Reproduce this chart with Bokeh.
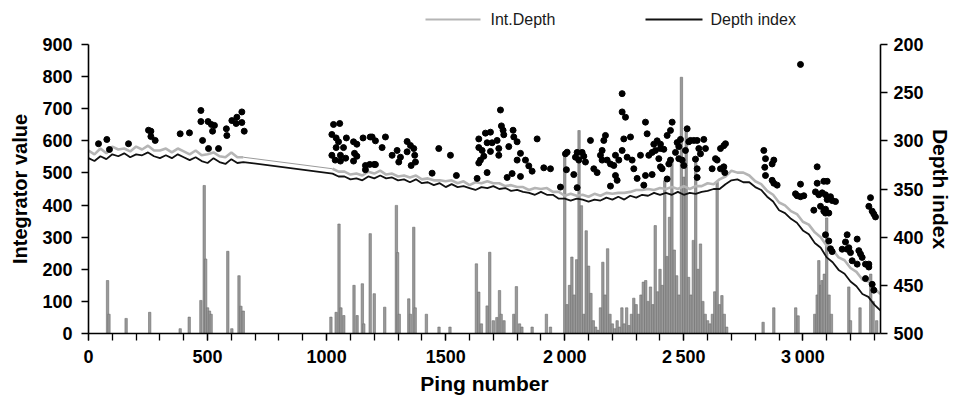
from bokeh.plotting import figure
from bokeh.layouts import column
from bokeh.models import (Range1d, LinearAxis, SingleIntervalTicker, FixedTicker,
                          ColumnDataSource)
from bokeh.core.properties import value
from bokeh.embed import file_html
from bokeh.resources import INLINE

# ---------------- data ----------------
# Depth index (black line), right axis units
depth_ping_a = list(range(0, 651, 25))
depth_a = [318, 321, 316, 319, 314, 316, 313, 317, 314, 315, 312, 316, 318, 315,
           318, 314, 317, 320, 317, 321, 323, 318, 322, 324, 319, 323, 322]
depth_ping_b = list(range(1025, 3326, 25))
depth_b = [334, 337, 337, 340, 339, 341, 337, 339, 336, 339,
           338, 341, 340, 343, 340, 344, 343, 346, 344, 348,
           345, 348, 347, 349, 351, 348, 349, 347, 350, 349,
           352, 351, 353, 354, 356, 353, 356, 356, 360, 360,
           362, 360, 361, 363, 361, 362, 359, 361, 358, 361,
           357, 359, 356, 357, 354, 356, 354, 356, 353, 356,
           354, 355, 353, 352, 350, 350, 345, 341, 340, 343,
           343, 348, 351, 358, 363, 372, 375, 381, 385, 393,
           397, 406, 411, 421, 426, 434, 438, 446, 451, 459,
           462, 470, 476]

# Int.Depth (grey line), right axis units
intd_a = [310, 314, 308, 313, 306, 309, 308, 311, 306, 309, 305, 310, 310, 308,
          312, 308, 311, 314, 310, 315, 314, 312, 316, 317, 312, 317, 317]
intd_b = [329, 332, 332, 335, 334, 336, 332, 334, 331, 335,
          334, 337, 336, 338, 336, 340, 339, 341, 341, 342,
          341, 344, 342, 346, 343, 344, 342, 344, 344, 347,
          346, 348, 348, 351, 349, 350, 349, 353, 353, 357,
          355, 357, 356, 358, 355, 357, 354, 355, 354, 354,
          353, 351, 351, 350, 351, 349, 350, 348, 350, 347,
          350, 347, 347, 344, 345, 340, 337, 331, 333, 333,
          336, 342, 345, 352, 356, 364, 367, 373, 376, 384,
          387, 395, 400, 409, 413, 421, 424, 432, 436, 444,
          446, 453, 459]

# Integrator value spikes (ping, value), left axis units
integrator = [
    (80, 165), (86, 60), (158, 47), (257, 66), (385, 15), (423, 51), (472, 103),
    (486, 461), (492, 232), (500, 80), (508, 70), (515, 60), (585, 256), (602, 15),
    (632, 180), (640, 85), (650, 70),
    (1018, 51), (1040, 66), (1052, 341), (1060, 80), (1072, 56), (1115, 150),
    (1128, 56), (1150, 155), (1156, 30), (1183, 311), (1200, 124), (1244, 82),
    (1293, 399), (1298, 252), (1305, 60), (1345, 108), (1352, 60), (1366, 331),
    (1372, 80), (1419, 60), (1472, 20), (1518, 20), (1629, 217), (1639, 129),
    (1650, 30), (1674, 86), (1685, 253), (1700, 40), (1715, 50), (1726, 134),
    (1733, 60), (1745, 40), (1786, 60), (1797, 146), (1810, 30), (1820, 20),
    (1863, 20), (1923, 60), (1940, 20),
    (2000, 560), (2010, 90), (2020, 150), (2030, 238), (2040, 120), (2050, 230),
    (2060, 632), (2070, 398), (2080, 60), (2090, 320), (2100, 210), (2110, 125),
    (2120, 40), (2130, 20), (2140, 10), (2150, 80), (2160, 222), (2170, 120),
    (2180, 264), (2190, 60), (2200, 30), (2210, 15), (2220, 40), (2230, 20),
    (2240, 80), (2250, 30), (2260, 80), (2270, 25), (2280, 60), (2290, 110),
    (2300, 90), (2310, 60), (2320, 120), (2330, 160), (2340, 165), (2350, 100),
    (2360, 145), (2370, 90), (2380, 336), (2390, 130), (2400, 200), (2410, 150),
    (2420, 476), (2430, 240), (2440, 362), (2450, 544), (2460, 260), (2470, 180),
    (2480, 120), (2490, 798), (2500, 487), (2510, 632), (2520, 175), (2530, 120),
    (2540, 290), (2550, 549), (2560, 200), (2570, 279), (2580, 100), (2590, 60),
    (2600, 40), (2610, 30), (2620, 60), (2630, 130), (2640, 471), (2650, 90),
    (2660, 118), (2670, 60), (2680, 20),
    (2833, 35), (2878, 80), (2970, 80), (2980, 55), (3050, 60), (3060, 120),
    (3067, 227), (3075, 150), (3080, 165), (3090, 185), (3100, 360), (3110, 120),
    (3120, 60), (3193, 145), (3200, 40), (3240, 80), (3285, 185), (3295, 100),
    (3310, 40),
]

# Black dots (ping, depth index), right axis units
dots = [
    (42, 303), (77, 298.6), (88, 309), (168, 303), (252, 289), (262, 290), (262, 295.5),
    (280, 299.6), (385, 292.7), (424, 291.7), (472, 268.5), (472, 280), (479, 299.6),
    (502, 280), (504, 308), (516, 283), (521, 290), (529, 284), (546, 308), (579, 287.5),
    (581, 294.5), (602, 279), (623, 275.5), (620, 282), (644, 270), (644, 281), (654, 290),
    (1029, 283), (1055, 282), (1022, 293.4), (1040, 297), (1050, 301), (1071, 307),
    (1040, 307), (1083, 297), (1022, 315), (1058, 315), (1036, 320), (1058, 321),
    (1080, 318), (1113, 301), (1127, 303.5), (1117, 313), (1127, 316), (1113, 321),
    (1153, 297), (1183, 296), (1205, 300), (1163, 325.6), (1181, 324.5), (1200, 324.5),
    (1163, 330),
    (1191, 296), (1247, 296), (1233, 307), (1205, 324.6), (1275, 315), (1296, 310),
    (1310, 317), (1303, 322), (1338, 300.7), (1352, 304.8), (1366, 308), (1370, 315),
    (1338, 311.4), (1373, 322), (1355, 325.6), (1471, 308), (1520, 315), (1443, 333.6),
    (1545, 336), (1639, 298), (1667, 292), (1688, 291), (1674, 302), (1695, 302),
    (1716, 299.6), (1639, 307), (1653, 310), (1688, 311), (1723, 308), (1723, 315),
    (1660, 316), (1646, 320), (1639, 323), (1674, 333), (1632, 339), (1730, 268),
    (1734, 284.5), (1744, 293.7), (1741, 289), (1783, 289), (1786, 296), (1800, 301),
    (1765, 306), (1814, 313), (1800, 320), (1835, 320), (1849, 326), (1863, 331.5),
    (1779, 334), (1814, 337), (1758, 338), (1884, 298), (1912, 328), (1940, 329),
    (1982, 348), (2010, 311.8), (2007, 330),
    (2003, 313.5), (2045, 317), (2052, 312), (2059, 320), (2038, 335), (2052, 348.6),
    (2073, 312), (2080, 316), (2087, 322), (2108, 299.6), (2122, 329), (2136, 333),
    (2150, 315), (2157, 310), (2164, 299.6), (2171, 294.4), (2157, 320), (2178, 320),
    (2192, 324), (2206, 325.6), (2213, 336), (2220, 341), (2213, 315), (2227, 320),
    (2192, 347), (2241, 251), (2241, 270), (2255, 275.5), (2248, 298), (2276, 296),
    (2241, 310), (2262, 317), (2283, 320), (2290, 329), (2304, 339), (2332, 346),
    (2339, 280.6), (2346, 292.7), (2353, 315), (2318, 315), (2339, 336), (2367, 335),
    (2374, 303.5), (2388, 300), (2402, 303.5), (2367, 312), (2381, 310), (2395, 318.5),
    (2402, 308), (2416, 308.8), (2430, 294.4), (2444, 289.2), (2451, 280.6), (2409, 329),
    (2430, 339.6), (2402, 327), (2444, 320), (2437, 324), (2465, 312), (2472, 301.8),
    (2479, 306), (2486, 298.5), (2479, 318.5), (2493, 320), (2500, 325.6), (2507, 310),
    (2514, 287.5), (2521, 301), (2528, 299.6), (2542, 299.6), (2556, 299.6), (2549, 319),
    (2556, 329), (2570, 313.5), (2563, 308), (2584, 298.5), (2591, 308), (2556, 338),
    (2619, 329), (2633, 318.5), (2640, 320), (2654, 329), (2654, 308), (2668, 305),
    (2675, 303), (2668, 327), (2672, 333),
    (2836, 310), (2843, 318.5), (2878, 320), (2871, 324), (2840, 327.5), (2843, 336),
    (2871, 341), (2892, 346), (2878, 344),
    (2990, 220.7), (2990, 345), (2969, 355), (2990, 358), (3004, 357), (2976, 357),
    (3060, 327), (3060, 344), (3053, 353), (3067, 356), (3088, 342), (3102, 342),
    (3081, 354), (3095, 356), (3102, 361), (3074, 368), (3095, 371), (3088, 373),
    (3095, 375), (3109, 375), (3116, 358), (3123, 362), (3137, 363), (3046, 372),
    (3095, 397.5), (3109, 404), (3123, 415), (3116, 412), (3186, 397.5), (3179, 405),
    (3165, 412.5), (3186, 412.5), (3193, 411), (3200, 416), (3228, 402), (3235, 414),
    (3242, 417.5), (3249, 421), (3207, 424.5), (3228, 428), (3263, 428), (3277, 428),
    (3277, 431), (3263, 443), (3291, 449), (3298, 455), (3284, 359), (3277, 368),
    (3291, 373), (3298, 376), (3305, 379),
]

legend_labels = ["Int.Depth", "Depth index"]
legend_colors = ["#b5b5b5", "#111111"]
x_tick_overrides = {2000: "2\u2009000", 2500: "2\u2009500", 3000: "3\u2009000"}
left_ticks = [0, 100, 200, 300, 400, 500, 600, 700, 800, 900]
right_ticks = [200, 250, 300, 350, 400, 450, 500]

# ---------------- layout ----------------
FONT = "Liberation Sans"
W = 955
LEG_H = 30
MAIN_H = 367
FRAME_L, FRAME_R, FRAME_T, FRAME_B = 88, 880, 44, 333

# legend strip: its frame is aligned with the main plot frame, so its x range is set
# to page pixels over that frame
leg = figure(width=W, height=LEG_H, x_range=Range1d(FRAME_L, FRAME_R),
             y_range=Range1d(0, LEG_H),
             output_backend="svg", toolbar_location=None, min_border=0,
             x_axis_type=None, y_axis_type=None, outline_line_color=None)
leg.grid.visible = False
leg_y = LEG_H - 19
leg.segment(x0=[425, 645], x1=[480, 702], y0=[leg_y, leg_y], y1=[leg_y, leg_y],
            line_color=legend_colors, line_width=[2, 1.8])
leg.text(x=[490, 710], y=[leg_y, leg_y], text=legend_labels, text_baseline="middle",
         text_font=value(FONT), text_font_size="16px", text_color="#1a1a1a")

# main plot
p = figure(width=W, height=MAIN_H, x_range=Range1d(0, 3326), y_range=Range1d(0, 900),
           output_backend="svg", toolbar_location=None,
           min_border_left=FRAME_L, min_border_right=W - FRAME_R,
           min_border_top=FRAME_T - LEG_H, min_border_bottom=MAIN_H - (FRAME_B - LEG_H))
p.extra_y_ranges = {"depth": Range1d(500, 200)}
p.outline_line_color = None
p.xgrid.visible = False
p.ygrid.visible = False

int_src = ColumnDataSource(dict(x=[a for a, b in integrator], top=[b for a, b in integrator]))
p.vbar(x="x", top="top", bottom=0, width=10, source=int_src,
       fill_color="#999999", line_color="#6e6e6e", line_width=0.6)

# grey Int.Depth: fuzzy where measured, thin straight join across the gap
p.line(depth_ping_a, intd_a, y_range_name="depth", line_color=legend_colors[0], line_width=2.6)
p.line(depth_ping_b, intd_b, y_range_name="depth", line_color=legend_colors[0], line_width=2.6)
p.line([depth_ping_a[-1], depth_ping_b[0]], [intd_a[-1], intd_b[0]], y_range_name="depth",
       line_color="#9a9a9a", line_width=1)

ping_all = depth_ping_a + depth_ping_b
p.line(ping_all, depth_a + depth_b, y_range_name="depth",
       line_color=legend_colors[1], line_width=1.8)

p.scatter([a for a, b in dots], [b for a, b in dots], y_range_name="depth",
          size=6, fill_color="black", line_color="black")


def style_axis(ax, label_size):
    ax.axis_line_color = "black"
    ax.axis_line_width = 1.6
    ax.major_tick_line_color = "black"
    ax.major_tick_line_width = 1.3
    ax.minor_tick_line_color = "black"
    ax.minor_tick_line_width = 1.3
    ax.major_tick_in = 0
    ax.major_tick_out = 7
    ax.minor_tick_in = 0
    ax.major_label_text_font = FONT
    ax.major_label_text_font_style = "bold"
    ax.major_label_text_font_size = "18px"
    ax.major_label_text_color = "black"
    ax.axis_label_text_font = FONT
    ax.axis_label_text_font_style = "bold"
    ax.axis_label_text_font_size = label_size
    ax.axis_label_text_color = "black"


xa = p.xaxis[0]
xa.ticker = SingleIntervalTicker(interval=500, num_minor_ticks=5)
xa.minor_tick_out = 7
xa.major_label_overrides = x_tick_overrides
xa.axis_label = "Ping number"
style_axis(xa, "21px")
xa.major_label_standoff = 6
xa.axis_label_standoff = 2

ya = p.yaxis[0]
ya.ticker = FixedTicker(ticks=left_ticks)
ya.minor_tick_out = 0
ya.major_tick_out = 8
ya.axis_label = "Integrator value"
style_axis(ya, "20px")
ya.major_label_standoff = 9
ya.axis_label_standoff = 8

ra = LinearAxis(y_range_name="depth", ticker=FixedTicker(ticks=right_ticks),
                axis_label="Depth index")
style_axis(ra, "21px")
ra.minor_tick_out = 0
ra.major_label_standoff = 6
ra.axis_label_standoff = 2
p.add_layout(ra, "right")

layout = column(leg, p, spacing=0)
open("out.html", "w").write(file_html(layout, INLINE))
